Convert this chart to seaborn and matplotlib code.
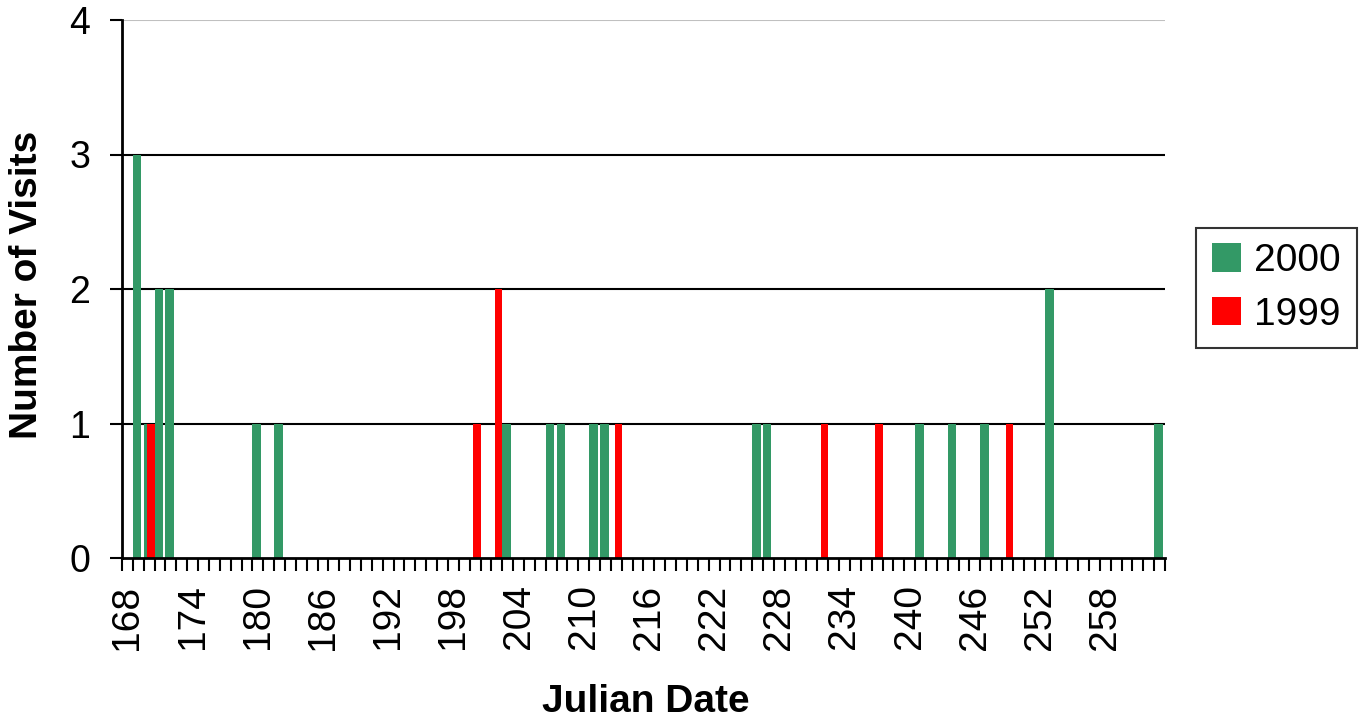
import pandas as pd
import matplotlib.pyplot as plt
import seaborn as sns
from matplotlib.ticker import FixedLocator

# Data
days = list(range(168, 264))

days_2000 = [169, 170, 171, 172, 180, 182, 203, 207, 208, 211, 212, 226, 227, 241, 244, 247, 253, 263]
visits_2000 = [3, 1, 2, 2, 1, 1, 1, 1, 1, 1, 1, 1, 1, 1, 1, 1, 2, 1]

days_1999 = [170, 200, 202, 213, 232, 237, 249]
visits_1999 = [1, 1, 2, 1, 1, 1, 1]

years = ['2000', '1999']
colors = {'2000': '#339966', '1999': '#ff0000'}

df = pd.concat([
    pd.DataFrame({'day': days_2000, 'visits': visits_2000, 'year': '2000'}),
    pd.DataFrame({'day': days_1999, 'visits': visits_1999, 'year': '1999'}),
])

sns.set_style('white')
plt.rcParams['font.family'] = ['Liberation Sans', 'DejaVu Sans']
plt.rcParams['text.color'] = 'black'
plt.rcParams['xtick.color'] = 'black'
plt.rcParams['ytick.color'] = 'black'

fig = plt.figure(figsize=(13.66, 7.19), dpi=100)
ax = fig.add_axes([122 / 1366, 1 - 558 / 719, (1165 - 122) / 1366, (558 - 20) / 719])

sns.barplot(data=df, x='day', y='visits', hue='year', order=days, hue_order=years,
            palette=colors, dodge=True, width=1.0, gap=0, saturation=1,
            linewidth=0, ax=ax)

# Excel-like overlapping clustered bars
for bar in ax.containers[0]:
    bar.set_width(0.78)
for bar in ax.containers[1]:
    right = bar.get_x() + bar.get_width()
    bar.set_width(0.66)
    bar.set_x(right - 0.66)

ax.set_xlim(-0.5, len(days) - 0.5)
ax.set_ylim(0, 4)

# labels every 6th day, tick marks between categories
label_idx = list(range(0, len(days), 6))
ax.xaxis.set_major_locator(FixedLocator(label_idx))
ax.set_xticklabels([str(days[i]) for i in label_idx], rotation=90, fontsize=28)
ax.xaxis.set_minor_locator(FixedLocator([i - 0.5 for i in range(len(days) + 1)]))
ax.tick_params(axis='x', which='major', length=0, pad=19, bottom=True)
ax.tick_params(axis='x', which='minor', length=9, width=1.5, color='black',
               direction='out', bottom=True)

ax.set_yticks([0, 1, 2, 3, 4])
ax.set_yticklabels(['0', '1', '2', '3', '4'], fontsize=27)
ax.tick_params(axis='y', length=9, width=1.5, color='black', direction='out', pad=14, left=True)

for v in [1, 2, 3]:
    ax.axhline(v, color='black', linewidth=1.5, zorder=0)
ax.axhline(4, color='#c0c0c0', linewidth=1.5, zorder=0)

for side in ['top', 'right']:
    ax.spines[side].set_visible(False)
for side in ['left', 'bottom']:
    ax.spines[side].set_color('black')
    ax.spines[side].set_linewidth(2)

ax.set_xlabel('')
ax.set_ylabel('')
fig.text(27 / 1366, 1 - 285 / 719, 'Number of Visits', rotation=90, fontsize=28,
         fontweight='bold', ha='center', va='center')
fig.text(646 / 1366, 1 - 702 / 719, 'Julian Date', fontsize=28,
         fontweight='bold', ha='center', va='center')

handles, labels = ax.get_legend_handles_labels()
ax.get_legend().remove()
leg = fig.legend(handles, labels, loc='center left', bbox_to_anchor=(1196 / 1366, 1 - 288 / 719),
                 fontsize=28, frameon=True, fancybox=False, handlelength=0.75,
                 handleheight=0.75, handletextpad=0.35, labelspacing=0.45,
                 borderpad=0.4, borderaxespad=0)
leg.get_frame().set_edgecolor('black')
leg.get_frame().set_linewidth(1.5)

fig.savefig('out.png', dpi=100)
